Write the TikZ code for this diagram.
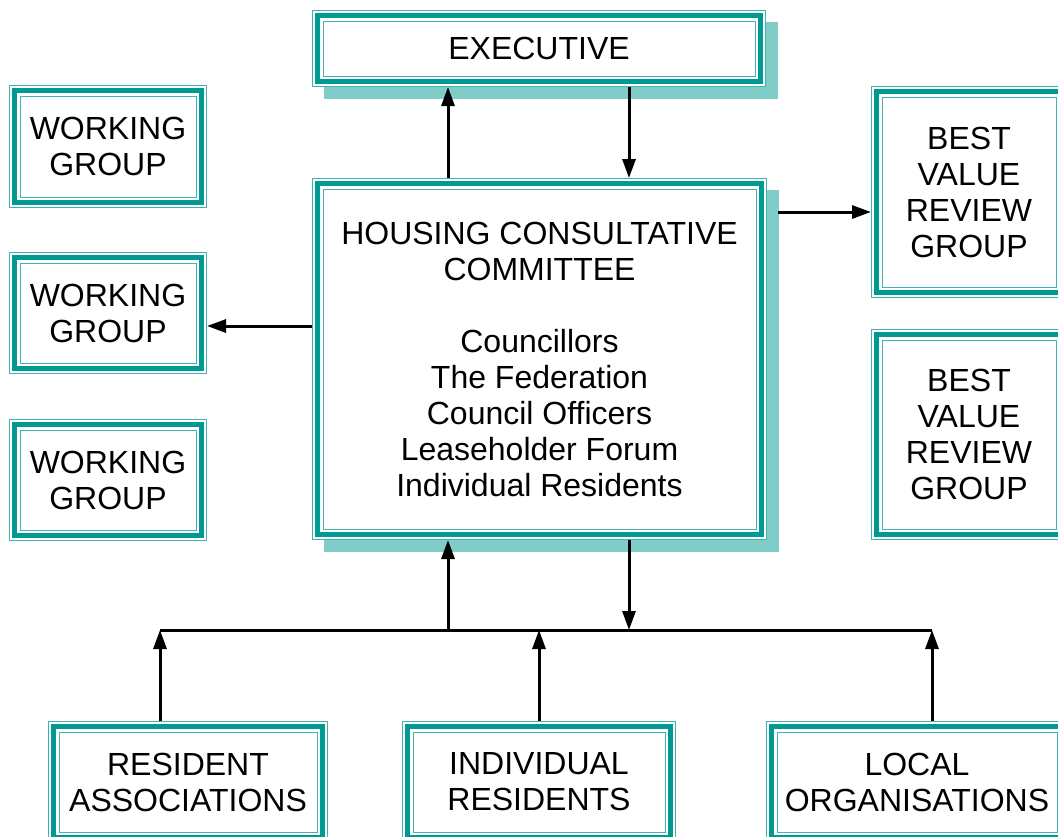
\documentclass[tikz,border=0pt]{standalone}
\usepackage{fontspec}
\setmainfont{Liberation Sans}
\usepackage{tikz}
\usetikzlibrary{calc, arrows.meta, shadows}

\definecolor{framecol}{RGB}{0,153,148}
\definecolor{shadecol}{RGB}{128,204,200}

\tikzset{
  panel/.style={fill=white, inner sep=0pt, outer sep=0pt, align=center,
    font=\fontsize{32}{36}\selectfont},
  shaded/.style={drop shadow={shadow xshift=12pt, shadow yshift=-12pt,
    fill=shadecol, opacity=1}},
  conn/.style={line width=3pt, -{Triangle[length=19pt,width=13pt]}},
  bus/.style={line width=3pt}
}

\begin{document}
\begin{tikzpicture}[x=1pt,y=-1pt]
      \useasboundingbox (0,0) rectangle (1058,836);
      \clip (0,0) rectangle (1058,836);
      % top and centre
      \node[panel,shaded,minimum width=454pt,minimum height=77pt] (exec) at (539,48.5) {EXECUTIVE};
      \node[panel,shaded,minimum width=455pt,minimum height=362pt] (hcc) at (539.5,359)
        {HOUSING CONSULTATIVE\\COMMITTEE\\[36pt]Councillors\\The Federation\\Council Officers\\Leaseholder Forum\\Individual Residents};
      % working groups on the left
      \node[panel,minimum width=198pt,minimum height=123pt] (wg1) at (108,146.5) {WORKING\\GROUP};
      \node[panel,minimum width=198pt,minimum height=122pt] (wg2) at (108,313) {WORKING\\GROUP};
      \node[panel,minimum width=198pt,minimum height=122pt] (wg3) at (108,480) {WORKING\\GROUP};
      % review groups on the right
      \node[panel,minimum width=196pt,minimum height=212pt] (bv1) at (969,192) {BEST\\VALUE\\REVIEW\\GROUP};
      \node[panel,minimum width=196pt,minimum height=211pt] (bv2) at (969,434.5) {BEST\\VALUE\\REVIEW\\GROUP};
      % bottom row
      \node[panel,minimum width=280pt,minimum height=122pt] (ra) at (188,782) {RESIDENT\\ASSOCIATIONS};
      \node[panel,minimum width=274pt,minimum height=122pt] (ir) at (539,782) {INDIVIDUAL\\RESIDENTS};
      \node[panel,minimum width=302pt,minimum height=122pt] (lo) at (917,782) {LOCAL\\ORGANISATIONS};
      % triple frames
      \foreach \b in {exec,hcc,wg1,wg2,wg3,bv1,bv2,ra,ir,lo} {
        \draw[framecol!75, line width=1pt] ([xshift=0.5pt,yshift=-0.5pt]\b.north west) rectangle ([xshift=-0.5pt,yshift=0.5pt]\b.south east);
        \draw[framecol, line width=4.4pt] ([xshift=5.5pt,yshift=-5.5pt]\b.north west) rectangle ([xshift=-5.5pt,yshift=5.5pt]\b.south east);
        \draw[framecol!75, line width=1pt] ([xshift=11pt,yshift=-11pt]\b.north west) rectangle ([xshift=-11pt,yshift=11pt]\b.south east);
      }
      \coordinate (lx) at (448,0);
      \coordinate (rx) at (629,0);
      \coordinate (ry) at (0,212);
      \coordinate (ly) at (0,326);
      \coordinate (busl) at (160,630);
      \coordinate (busr) at (932,630);
      % vertical lines between executive and committee
      \draw[conn] (hcc.north -| lx) -- (exec.south -| lx);
      \draw[conn] (exec.south -| rx) -- (hcc.north -| rx);
      % horizontal lines
      \draw[conn] (hcc.east |- ry) ++(11,0) -- (bv1.west |- ry);
      \draw[conn] (hcc.west |- ly) -- (wg2.east |- ly);
      % bus along the bottom
      \draw[bus] (busl) -- (busr);
      \draw[conn] (busl -| lx) -- (hcc.south -| lx);
      \draw[conn] (hcc.south -| rx) -- (busl -| rx);
      \draw[conn] (ra.north -| busl) -- (busl);
      \draw[conn] (ir.north) -- (ir.north |- busl);
      \draw[conn] (lo.north -| busr) -- (busr);
    \end{tikzpicture}
\end{document}
